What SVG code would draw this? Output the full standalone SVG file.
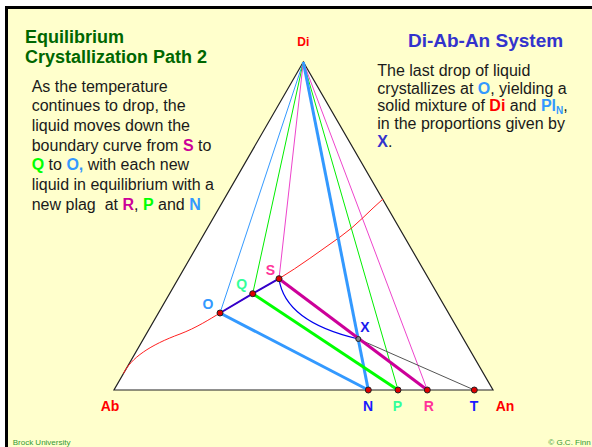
<svg xmlns="http://www.w3.org/2000/svg" width="592" height="447" viewBox="0 0 592 447">
<style>
text{font-family:"Liberation Sans",Arial,sans-serif}
.b{font-weight:bold}
.lbl{font-weight:bold;font-size:14px;text-anchor:middle}
.body{font-size:16px;fill:#1a1a1a}
.thin{fill:none;stroke-width:1}
.thick{fill:none;stroke-width:3}
.dot{fill:#e00000;stroke:#222;stroke-width:1}
</style>
<rect x="0" y="0" width="592" height="447" fill="#ffffff"/>
<rect x="6.5" y="7.5" width="600" height="450" fill="#FFFFCC" stroke="#000" stroke-width="3"/>
<g id="triangle">
<polygon points="303.3,62 114,390 493,390" fill="#ffffff" stroke="#222" stroke-width="1.2"/>
</g>
<g id="connectors">
<path class="thin" stroke="#3399FF" d="M303.3,62 L220,313"/>
<path class="thin" stroke="#00EE00" d="M303.3,62 L252.7,293.7"/>
<path class="thin" stroke="#EE44CC" d="M303.3,62 L279,278.7"/>
<path class="thin" stroke="#00EE00" d="M303.3,62 L398,390"/>
<path class="thin" stroke="#EE44CC" d="M303.3,62 L427.3,390"/>
<path fill="none" stroke="#FF2020" stroke-width="1" d="M123.5,373.5 C131,358 150,345 180,334 C196,328 210,319 220,313 L252.7,293.7 L279,278.7 C300,266 320,251 340,237 C356,226 370,210 383,199"/>
<path class="thick" stroke="#3399FF" d="M303.3,62 L368.3,390"/>
<path class="thin" stroke="#555" d="M358.3,339 L474.3,390"/>
<path fill="none" stroke="#0000EE" stroke-width="1.2" d="M279,278.7 Q285,322 358.3,339"/>
<path class="thick" stroke="#3399FF" d="M220,313 L368.3,390"/>
<path class="thick" stroke="#00FF00" d="M252.7,293.7 L398,390"/>
<path class="thick" stroke="#CC0099" d="M279,278.7 L427.3,390"/>
<path fill="none" stroke="#3300CC" stroke-width="2" d="M220,313 L252.7,293.7 L279,278.7"/>
</g>
<g id="node-O"><circle class="dot" cx="220" cy="313" r="3"/><text class="lbl" x="208" y="309" fill="#3399FF">O</text></g>
<g id="node-Q"><circle class="dot" cx="252.7" cy="293.7" r="3"/><text class="lbl" x="241.7" y="288.5" fill="#33FF99">Q</text></g>
<g id="node-S"><circle class="dot" cx="279" cy="278.7" r="3"/><text class="lbl" x="270.5" y="274.7" fill="#FF3399">S</text></g>
<g id="node-X"><circle cx="358.3" cy="339" r="2.5" fill="#888" stroke="#222" stroke-width="1"/><text class="lbl" x="365" y="331.7" fill="#1a1aEE">X</text></g>
<g id="node-N"><circle class="dot" cx="368.3" cy="390" r="3"/><text class="lbl" x="368" y="411" fill="#1a1aFF">N</text></g>
<g id="node-P"><circle class="dot" cx="398" cy="390" r="3"/><text class="lbl" x="397.5" y="411" fill="#33FF99">P</text></g>
<g id="node-R"><circle class="dot" cx="427.3" cy="390" r="3"/><text class="lbl" x="428.8" y="411" fill="#FF3399">R</text></g>
<g id="node-T"><circle class="dot" cx="474.3" cy="390" r="3"/><text class="lbl" x="474" y="411" fill="#1a1aFF">T</text></g>
<g id="node-Di"><text class="b" x="303.3" y="46" font-size="12" text-anchor="middle" fill="#FF0000">Di</text></g>
<g id="node-Ab"><text class="b" x="110" y="411" font-size="14" text-anchor="middle" fill="#FF0000">Ab</text></g>
<g id="node-An"><text class="b" x="505" y="411" font-size="14" text-anchor="middle" fill="#FF0000">An</text></g>
<g id="title-left">
<text class="b" font-size="18" fill="#006600"><tspan x="25" y="42.7">Equilibrium</tspan><tspan x="25" y="63.3">Crystallization Path 2</tspan></text>
</g>
<g id="text-left">
<text class="body">
<tspan x="31.7" y="91.5">As the temperature</tspan>
<tspan x="31.7" y="111.2">continues to drop, the</tspan>
<tspan x="31.7" y="130.9">liquid moves down the</tspan>
<tspan x="31.7" y="150.6">boundary curve from <tspan class="b" fill="#CC0099">S</tspan> to</tspan>
<tspan x="31.7" y="170.3"><tspan class="b" fill="#00FF00">Q</tspan> to <tspan class="b" fill="#3399FF">O,</tspan> with each new</tspan>
<tspan x="31.7" y="190">liquid in equilibrium with a</tspan>
<tspan x="31.7" y="209.7">new plag&#160; at <tspan class="b" fill="#CC0099">R</tspan>, <tspan class="b" fill="#00FF00">P</tspan> and <tspan class="b" fill="#3399FF">N</tspan></tspan>
</text>
</g>
<g id="title-right">
<text class="b" x="485.5" y="46.7" font-size="19" text-anchor="middle" fill="#3333CC">Di-Ab-An System</text>
</g>
<g id="text-right">
<text class="body">
<tspan x="377.3" y="75.9">The last drop of liquid</tspan>
<tspan x="377.3" y="93.6">crystallizes at <tspan class="b" fill="#3399FF">O</tspan>, yielding a</tspan>
<tspan x="377.3" y="111.3">solid mixture of <tspan class="b" fill="#FF0000">Di</tspan> and <tspan class="b" fill="#3399FF">Pl</tspan><tspan class="b" fill="#3399FF" font-size="10" dy="3">N</tspan><tspan dy="-3">,</tspan></tspan>
<tspan x="377.3" y="129">in the proportions given by</tspan>
<tspan x="377.3" y="146.7"><tspan class="b" fill="#3333CC">X</tspan>.</tspan>
</text>
</g>
<g id="footer">
<text x="12.7" y="444.5" font-size="8" fill="#339933">Brock University</text>
<text x="548.3" y="444.5" font-size="8" fill="#339933">© G.C. Finn</text>
</g>
</svg>
